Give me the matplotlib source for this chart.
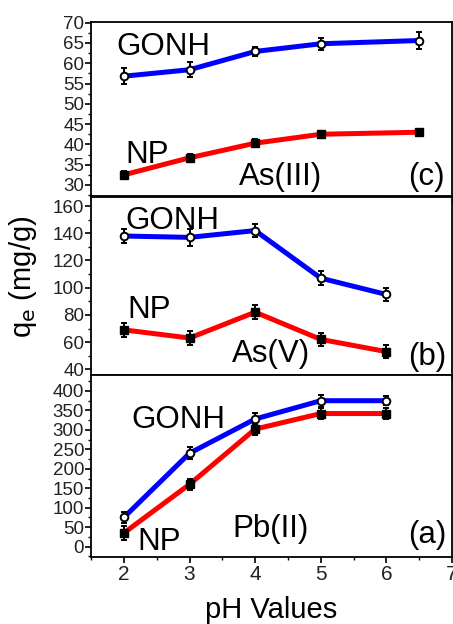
import matplotlib
matplotlib.use("Agg")
import matplotlib.pyplot as plt
from matplotlib.ticker import MultipleLocator

plt.rcParams['font.family'] = ['Liberation Sans', 'DejaVu Sans']

# Panel (c) As(III)
ph_c = [2, 3, 4, 5, 6.5]
c_gonh = [56.8, 58.4, 62.9, 64.8, 65.6]
c_gonh_err = [2.0, 1.8, 1.0, 1.5, 2.0]
c_np = [32.5, 36.7, 40.3, 42.5, 43.0]
c_np_err = [1.0, 1.0, 1.0, 0.9, 0.8]

# Panel (b) As(V)
ph_b = [2, 3, 4, 5, 6]
b_gonh = [138, 137, 142, 107, 95]
b_gonh_err = [5, 6, 5, 5, 5]
b_np = [69, 63, 82, 62, 53]
b_np_err = [5, 5, 5, 5, 5]

# Panel (a) Pb(II)
ph_a = [2, 3, 4, 5, 6]
a_gonh = [75, 240, 328, 375, 375]
a_gonh_err = [15, 15, 15, 15, 12]
a_np = [35, 160, 302, 342, 342]
a_np_err = [18, 15, 15, 15, 15]

x_ticks = [2, 3, 4, 5, 6, 7]

fig = plt.figure(figsize=(4.53, 6.24), dpi=100)
left, right = 0.201, 0.998
ax_c = fig.add_axes([left, 0.686, right - left, 0.965 - 0.686])
ax_b = fig.add_axes([left, 0.399, right - left, 0.685 - 0.399])
ax_a = fig.add_axes([left, 0.108, right - left, 0.399 - 0.108])

def draw(ax, x, g, ge, n, ne):
    ax.plot(x, g, color='#0000ff', lw=3.6, zorder=2)
    ax.plot(x, n, color='#ff0000', lw=3.6, zorder=2)
    ax.errorbar(x, g, yerr=ge, fmt='o', mfc='white', mec='black', mew=1.4,
                ms=5.5, ecolor='black', elinewidth=1.4, capsize=2.5, capthick=1.4, zorder=3)
    ax.errorbar(x, n, yerr=ne, fmt='s', mfc='black', mec='black',
                ms=6, ecolor='black', elinewidth=1.4, capsize=2.5, capthick=1.4, zorder=3)
    ax.set_xlim(1.5, 7)
    ax.set_xticks(x_ticks)
    ax.xaxis.set_minor_locator(MultipleLocator(0.5))
    ax.tick_params(axis='both', which='major', direction='out', length=4, width=1.2,
                   labelsize=13.5, colors='black', labelcolor='#222222', pad=1)
    ax.tick_params(axis='both', which='minor', direction='out', length=2.5, width=1.0)
    for s in ax.spines.values():
        s.set_linewidth(1.3)

draw(ax_c, ph_c, c_gonh, c_gonh_err, c_np, c_np_err)
ax_c.set_ylim(27.3, 70.2)
ax_c.set_yticks(range(30, 71, 5))
ax_c.yaxis.set_minor_locator(MultipleLocator(2.5))
ax_c.tick_params(axis='x', labelbottom=False)

draw(ax_b, ph_b, b_gonh, b_gonh_err, b_np, b_np_err)
ax_b.set_ylim(35.8, 167)
ax_b.set_yticks(range(40, 161, 20))
ax_b.yaxis.set_minor_locator(MultipleLocator(10))
ax_b.tick_params(axis='x', labelbottom=False)

draw(ax_a, ph_a, a_gonh, a_gonh_err, a_np, a_np_err)
ax_a.set_ylim(-25.7, 441)
ax_a.set_yticks(range(0, 401, 50))
ax_a.yaxis.set_minor_locator(MultipleLocator(25))
ax_a.tick_params(axis='x', labelsize=15, pad=2)
ax_a.set_xlabel('pH Values', fontsize=21, labelpad=8.5)

fs = 22.5
kw = dict(fontsize=fs, va='baseline', ha='left')
ax_c.text(1.89, 62.0, 'GONH', **kw)
ax_c.text(2.02, 35.4, 'NP', **kw)
ax_c.text(3.76, 30.0, 'As(III)', **kw)
ax_c.text(6.33, 30.0, '(c)', **kw)

ax_b.text(2.03, 143.3, 'GONH', **kw)
ax_b.text(2.06, 77.9, 'NP', **kw)
ax_b.text(3.65, 45.6, 'As(V)', **kw)
ax_b.text(6.33, 43.0, '(b)', **kw)

ax_a.text(2.12, 305, 'GONH', **kw)
ax_a.text(2.21, -9, 'NP', **kw)
ax_a.text(3.65, 25, 'Pb(II)', **kw)
ax_a.text(6.33, 9, '(a)', **kw)

fig.text(0.05, 0.556, r'q$_\mathrm{e}$ (mg/g)', rotation=90, fontsize=21,
         ha='center', va='center')

fig.savefig('out.png', dpi=100)
